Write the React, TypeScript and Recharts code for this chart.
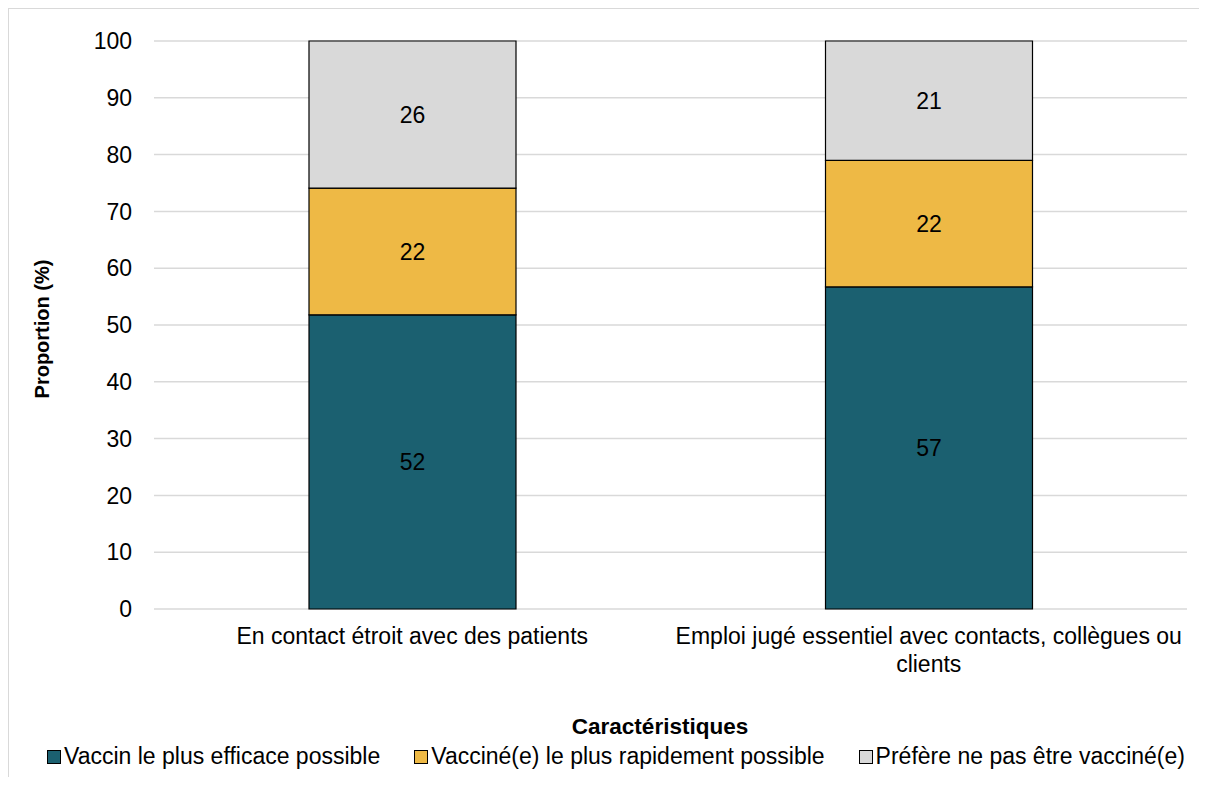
import React from 'react';
import { BarChart, Bar, XAxis, YAxis, CartesianGrid, LabelList, Label } from 'recharts';

const categories = [
  'En contact étroit avec des patients',
  'Emploi jugé essentiel avec contacts, collègues ou clients',
];
const efficace = [51.8, 56.7];
const rapide = [22.3, 22.3];
const pasVaccine = [25.9, 21.0];
const yTicks = [0, 10, 20, 30, 40, 50, 60, 70, 80, 90, 100];

const series = [
  { key: 'efficace', name: 'Vaccin le plus efficace possible', color: '#1b6070' },
  { key: 'rapide', name: 'Vacciné(e) le plus rapidement possible', color: '#eeb945' },
  { key: 'pasVaccine', name: 'Préfère ne pas être vacciné(e)', color: '#d9d9d9' },
];

const data = categories.map((c, i) => ({
  name: c,
  efficace: efficace[i],
  rapide: rapide[i],
  pasVaccine: pasVaccine[i],
}));

const FONT = '"Liberation Sans", Arial, Helvetica, sans-serif';
const FS = 23;

// break a label into lines no wider than maxW
const wrapText = (str: string, maxW: number) => {
  const ctx = document.createElement('canvas').getContext('2d');
  if (!ctx) return [str];
  ctx.font = `${FS}px ${FONT}`;
  const words = str.split(' ');
  const lines: string[] = [];
  let cur = '';
  words.forEach((w) => {
    const test = cur ? cur + ' ' + w : w;
    if (cur && ctx.measureText(test).width > maxW) {
      lines.push(cur);
      cur = w;
    } else {
      cur = test;
    }
  });
  if (cur) lines.push(cur);
  return lines;
};

const XTick = (props: any) => {
  const { x, y, payload } = props;
  const lines = wrapText(String(payload.value), 515);
  return (
    <text x={x} y={y} textAnchor="middle" fill="#000" fontSize={FS} fontFamily={FONT}>
      {lines.map((l, i) => (
        <tspan key={i} x={x} dy={i === 0 ? 17 : 28}>
          {l}
        </tspan>
      ))}
    </text>
  );
};

export default function App() {
  return (
    <div
      style={{
        position: 'relative',
        marginTop: -1,
        marginLeft: -1,
        borderTop: '2px solid #d9d9d9',
        borderLeft: '2px solid #d9d9d9',
        width: 1198,
        height: 768,
        fontFamily: FONT,
      }}
    >
      <BarChart
        width={1198}
        height={768}
        data={data}
        margin={{ top: 32, right: 20, left: 0, bottom: 88 }}
        barSize={207}
      >
        <CartesianGrid vertical={false} stroke="#d9d9d9" strokeWidth={1.5} />
        <XAxis
          dataKey="name"
          axisLine={false}
          tickLine={false}
          tickSize={6}
          tickMargin={12}
          height={80}
          interval={0}
          tick={<XTick />}
        />
        <YAxis
          domain={[0, 100]}
          ticks={yTicks}
          width={145}
          axisLine={false}
          tickLine={false}
          tickSize={6}
          tickMargin={16}
          tick={{ fontSize: FS, fill: '#000', fontFamily: FONT }}
        >
          <Label
            content={({ viewBox }: any) => {
              const cy = viewBox.y + viewBox.height / 2 + 4;
              return (
                <text
                  x={33}
                  y={cy}
                  transform={`rotate(-90 33 ${cy})`}
                  textAnchor="middle"
                  dominantBaseline="central"
                  fontSize={20}
                  fontWeight="bold"
                  fill="#000"
                  fontFamily={FONT}
                >
                  Proportion (%)
                </text>
              );
            }}
          />
        </YAxis>
        {series.map((s) => (
          <Bar
            key={s.key}
            dataKey={s.key}
            name={s.name}
            stackId="a"
            fill={s.color}
            stroke="#000"
            strokeWidth={1.2}
            isAnimationActive={false}
          >
            <LabelList
              dataKey={s.key}
              position="center"
              formatter={(v: any) => Math.round(Number(v))}
              fill="#000"
              fontSize={FS}
              fontFamily={FONT}
            />
          </Bar>
        ))}
      </BarChart>
      <div
        style={{
          position: 'absolute',
          left: 451,
          width: 400,
          top: 705,
          textAlign: 'center',
          fontSize: 22.5,
          fontWeight: 'bold',
          color: '#000',
        }}
      >
        Caractéristiques
      </div>
      <div
        style={{
          position: 'absolute',
          left: 40,
          width: 1134,
          top: 734,
          display: 'flex',
          justifyContent: 'center',
          gap: 34,
          fontSize: FS,
          color: '#000',
          whiteSpace: 'nowrap',
        }}
      >
        {series.map((s) => (
          <div key={s.key} style={{ display: 'flex', alignItems: 'center' }}>
            <span
              style={{
                display: 'inline-block',
                width: 12,
                height: 12,
                background: s.color,
                border: '1px solid #000',
                marginRight: 3,
              }}
            />
            <span>{s.name}</span>
          </div>
        ))}
      </div>
    </div>
  );
}
